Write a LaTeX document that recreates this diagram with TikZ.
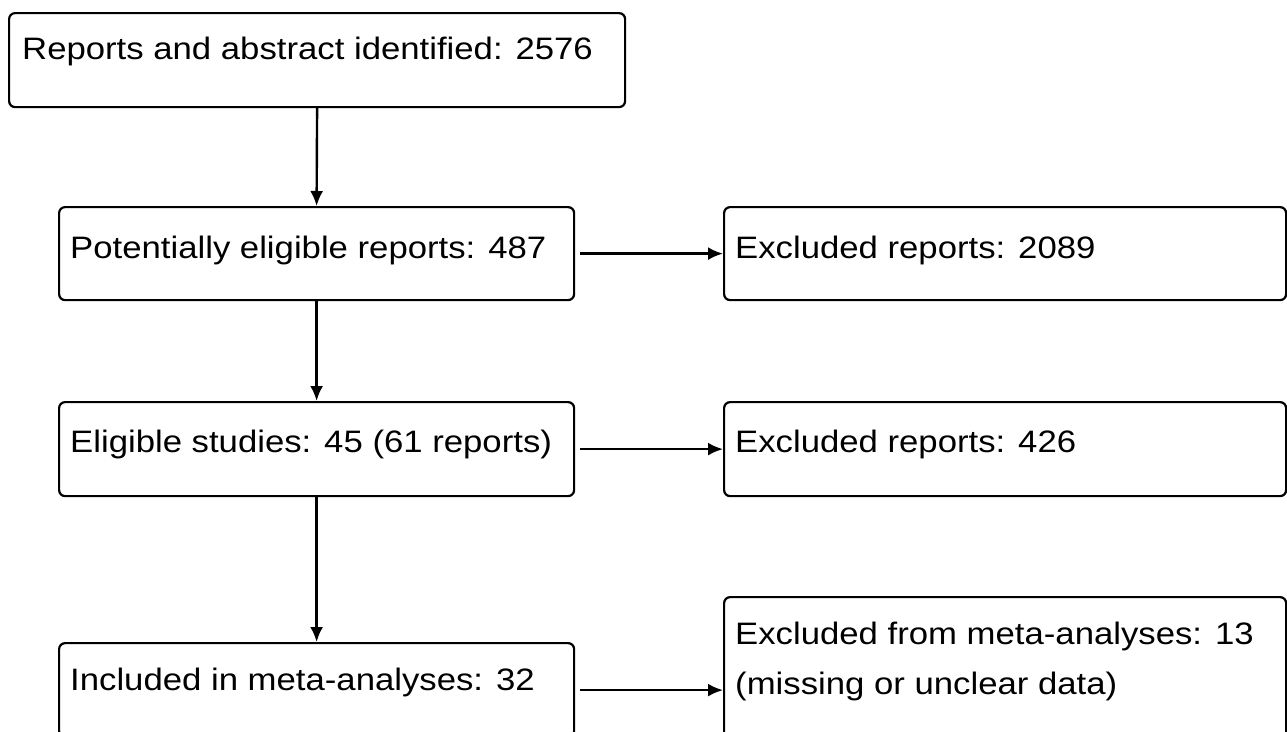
\documentclass[tikz,border=0pt]{standalone}
\usepackage{fontspec}
\setmainfont{Liberation Sans}[FakeStretch=1.12]
\usetikzlibrary{arrows.meta}
\begin{document}
\begin{tikzpicture}[x=1pt,y=-1pt,
  box/.style={draw, line width=2.2pt, rounded corners=6pt, anchor=north west, inner sep=0pt},
  lbl/.style={anchor=base west, inner sep=0pt, align=left, font=\fontsize{31}{50}\selectfont},
  arr/.style={line width=2.4pt, -{Latex[length=15pt,width=13pt]}}]
\useasboundingbox (0,0) rectangle (1287,731);
\clip (0,0) rectangle (1287,731);
\node[box, minimum width=616pt, minimum height=94pt] (b1) at (8,12) {};
\node[box, minimum width=515pt, minimum height=93pt] (b2) at (58,206) {};
\node[box, minimum width=562pt, minimum height=93pt] (b3) at (723,206) {};
\node[box, minimum width=515pt, minimum height=94pt] (b4) at (58,401) {};
\node[box, minimum width=562pt, minimum height=94pt] (b5) at (723,401) {};
\node[box, minimum width=515pt, minimum height=94pt] (b6) at (58,642) {};
\node[box, minimum width=562pt, minimum height=160pt] (b7) at (723,596) {};
\node[lbl] (t1) at (22,59) {Reports and abstract identified: 2576};
\node[lbl] (t2) at (70,258) {Potentially eligible reports: 487};
\node[lbl] (t3) at (735,258) {Excluded reports: 2089};
\node[lbl] (t4) at (70,452) {Eligible studies: 45 (61 reports)};
\node[lbl] (t5) at (735,452) {Excluded reports: 426};
\node[lbl] (t6) at (70,690) {Included in meta-analyses: 32};
\node[lbl] (t7) at (735,694) {Excluded from meta-analyses: 13\\(missing or unclear data)};
\draw[arr] (b1.south) -- (b2.north);
\draw[arr] (b2.south) -- (b4.north);
\draw[arr] (b4.south) -- (b6.north);
\draw[arr] ([xshift=5pt]b2.east) -- (b3.west |- b2.east);
\draw[arr] ([xshift=5pt]b4.east) -- (b5.west |- b4.east);
\draw[arr] ([xshift=5pt]b6.east) -- (b7.west |- b6.east);
\end{tikzpicture}
\end{document}
